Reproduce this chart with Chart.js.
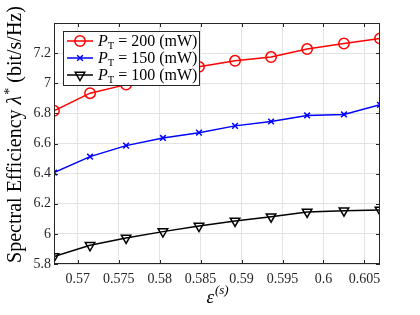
<!DOCTYPE html>
<html><head><meta charset="utf-8">
<script src="https://cdn.jsdelivr.net/npm/chart.js@4/dist/chart.umd.min.js"></script>
<style>html,body{margin:0;padding:0;background:#fff}#c{display:block}</style>
</head><body>
<canvas id="c" width="420" height="315"></canvas>
<script>
const epsValues = [0.5671, 0.5715, 0.5759, 0.5804, 0.5848, 0.5892, 0.5936, 0.5980, 0.6025, 0.6069];
const pt200 = [6.817, 6.934, 6.991, 7.050, 7.109, 7.149, 7.174, 7.227, 7.264, 7.297];
const pt150 = [6.407, 6.513, 6.586, 6.637, 6.672, 6.717, 6.746, 6.786, 6.793, 6.857];
const pt100 = [5.849, 5.924, 5.973, 6.015, 6.052, 6.086, 6.114, 6.146, 6.154, 6.159];
const powerLabels = ['200', '150', '100'];
const xTicks = [0.57, 0.575, 0.58, 0.585, 0.59, 0.595, 0.6, 0.605];
const yTicks = [5.8, 6, 6.2, 6.4, 6.6, 6.8, 7, 7.2];

const FONT = '"Liberation Serif", "DejaVu Serif", serif';
const AX = '#262626';
const fmt = v => String(Math.round(v * 1000) / 1000);

function mk(vals) { return epsValues.map((x, i) => ({x: x, y: vals[i]})); }

const datasets = [
  {label: powerLabels[0], data: mk(pt200), borderColor: '#ff0000', pointStyle: 'circle', pointRadius: 5.2, pointRotation: 0},
  {label: powerLabels[1], data: mk(pt150), borderColor: '#0000ff', pointStyle: 'crossRot', pointRadius: 4, pointRotation: 0},
  {label: powerLabels[2], data: mk(pt100), borderColor: '#000000', pointStyle: 'triangle', pointRadius: 5.5, pointRotation: 180}
].map(d => Object.assign(d, {
  borderWidth: 1.5, pointBorderColor: d.borderColor, pointBackgroundColor: 'rgba(0,0,0,0)',
  pointBorderWidth: 1.5, tension: 0, fill: false
}));

const boxPlugin = {
  id: 'box',
  afterDatasetsDraw(chart) {
    const {ctx, chartArea: a, scales} = chart;
    ctx.save();
    ctx.strokeStyle = AX; ctx.lineWidth = 1;
    ctx.strokeRect(a.left + 0.5, a.top + 0.5, a.right - a.left - 1, a.bottom - a.top - 1);
    const L = 4;
    ctx.beginPath();
    xTicks.forEach(t => {
      const x = Math.round(scales.x.getPixelForValue(t)) + 0.5;
      ctx.moveTo(x, a.bottom); ctx.lineTo(x, a.bottom - L);
      ctx.moveTo(x, a.top); ctx.lineTo(x, a.top + L);
    });
    yTicks.forEach(t => {
      const y = Math.round(scales.y.getPixelForValue(t)) + 0.5;
      ctx.moveTo(a.left, y); ctx.lineTo(a.left + L, y);
      ctx.moveTo(a.right, y); ctx.lineTo(a.right - L, y);
    });
    ctx.stroke();
    ctx.restore();
  },
  afterDraw(chart) {
    const {ctx} = chart;
    ctx.save();
    // legend
    const lx = 63, ly = 31, lw = 136, lh = 54;
    ctx.fillStyle = '#fff';
    ctx.fillRect(lx, ly, lw, lh);
    ctx.strokeStyle = '#262626'; ctx.lineWidth = 1;
    ctx.strokeRect(lx + 0.5, ly + 0.5, lw, lh);
    chart.data.datasets.forEach((d, i) => {
      const cy = ly + 10 + i * 17;
      ctx.strokeStyle = d.borderColor; ctx.lineWidth = 1.5;
      ctx.beginPath(); ctx.moveTo(lx + 4, cy); ctx.lineTo(lx + 30, cy); ctx.stroke();
      ctx.fillStyle = 'rgba(0,0,0,0)';
      Chart.helpers.drawPoint(ctx, {pointStyle: d.pointStyle, radius: d.pointRadius, rotation: d.pointRotation, borderWidth: 1.5}, lx + 17, cy);
      ctx.fillStyle = '#000';
      ctx.textBaseline = 'alphabetic'; ctx.textAlign = 'left';
      let x = lx + 35, by = cy + 5;
      ctx.font = 'italic 16px ' + FONT; ctx.fillText('P', x, by); x += ctx.measureText('P').width;
      ctx.font = '10.5px ' + FONT; ctx.fillText('T', x, by + 3); x += ctx.measureText('T').width + 4;
      ctx.font = '16px ' + FONT;
      ctx.fillText('=', x, by); x += ctx.measureText('=').width + 4;
      ctx.fillText(d.label + ' (mW)', x, by);
    });
    // y title
    ctx.save();
    ctx.translate(21, 135);
    ctx.rotate(-Math.PI / 2);
    ctx.fillStyle = '#000';
    ctx.textBaseline = 'alphabetic';
    const p1 = 'Spectral Efficiency ', p3 = ' (bit/s/Hz)';
    ctx.font = '20px ' + FONT;
    const w1 = ctx.measureText(p1).width, w3 = ctx.measureText(p3).width;
    ctx.font = 'italic 20px ' + FONT; const w2 = ctx.measureText('λ').width;
    ctx.font = '14px ' + FONT; const ws = ctx.measureText('*').width;
    let x = -(w1 + w2 + ws + w3) / 2;
    ctx.font = '20px ' + FONT; ctx.fillText(p1, x, 0); x += w1;
    ctx.font = 'italic 20px ' + FONT; ctx.fillText('λ', x, 0); x += w2;
    ctx.font = '14px ' + FONT; ctx.fillText('*', x + 1, -7); x += ws + 1;
    ctx.font = '20px ' + FONT; ctx.fillText(p3, x, 0);
    ctx.restore();
    // x title
    ctx.fillStyle = '#000';
    ctx.textBaseline = 'alphabetic';
    ctx.font = 'italic 19px ' + FONT;
    const we = ctx.measureText('ε').width;
    ctx.font = 'italic 13px ' + FONT;
    const wp = ctx.measureText('(').width, wsc = ctx.measureText('s').width;
    const wsup = wp * 2 + wsc;
    let ex = 217 - (we + wsup) / 2;
    ctx.font = 'italic 19px ' + FONT; ctx.fillText('ε', ex, 303);
    ctx.font = 'italic 13px ' + FONT;
    ctx.fillText('(', ex + we + 1, 294);
    ctx.fillText('s', ex + we + 1 + wp, 294);
    ctx.fillText(')', ex + we + 1 + wp + wsc, 294);
    ctx.restore();
  }
};

new Chart(document.getElementById('c'), {
  type: 'line',
  data: {datasets: datasets},
  options: {
    responsive: false, animation: false, devicePixelRatio: 1,
    layout: {padding: {left: 0, top: 23, right: 40, bottom: 0}},
    plugins: {legend: {display: false}, tooltip: {enabled: false}},
    scales: {
      x: {
        type: 'linear', min: 0.5671, max: 0.6069,
        afterFit(s) { s.height = 51; },
        afterBuildTicks(s) { s.ticks = xTicks.map(v => ({value: v})); },
        grid: {color: '#e3e3e3', drawTicks: false},
        border: {display: false},
        ticks: {font: {family: FONT, size: 14}, color: AX, padding: 7, maxRotation: 0, autoSkip: false, callback: v => fmt(v)}
      },
      y: {
        min: 5.8, max: 7.4,
        afterFit(s) { s.width = 54; },
        afterBuildTicks(s) { s.ticks = yTicks.map(v => ({value: v})); },
        grid: {color: '#e3e3e3', drawTicks: false},
        border: {display: false},
        ticks: {font: {family: FONT, size: 14}, color: AX, padding: 3, autoSkip: false, callback: v => fmt(v)}
      }
    }
  },
  plugins: [boxPlugin]
});
</script>
</body></html>
